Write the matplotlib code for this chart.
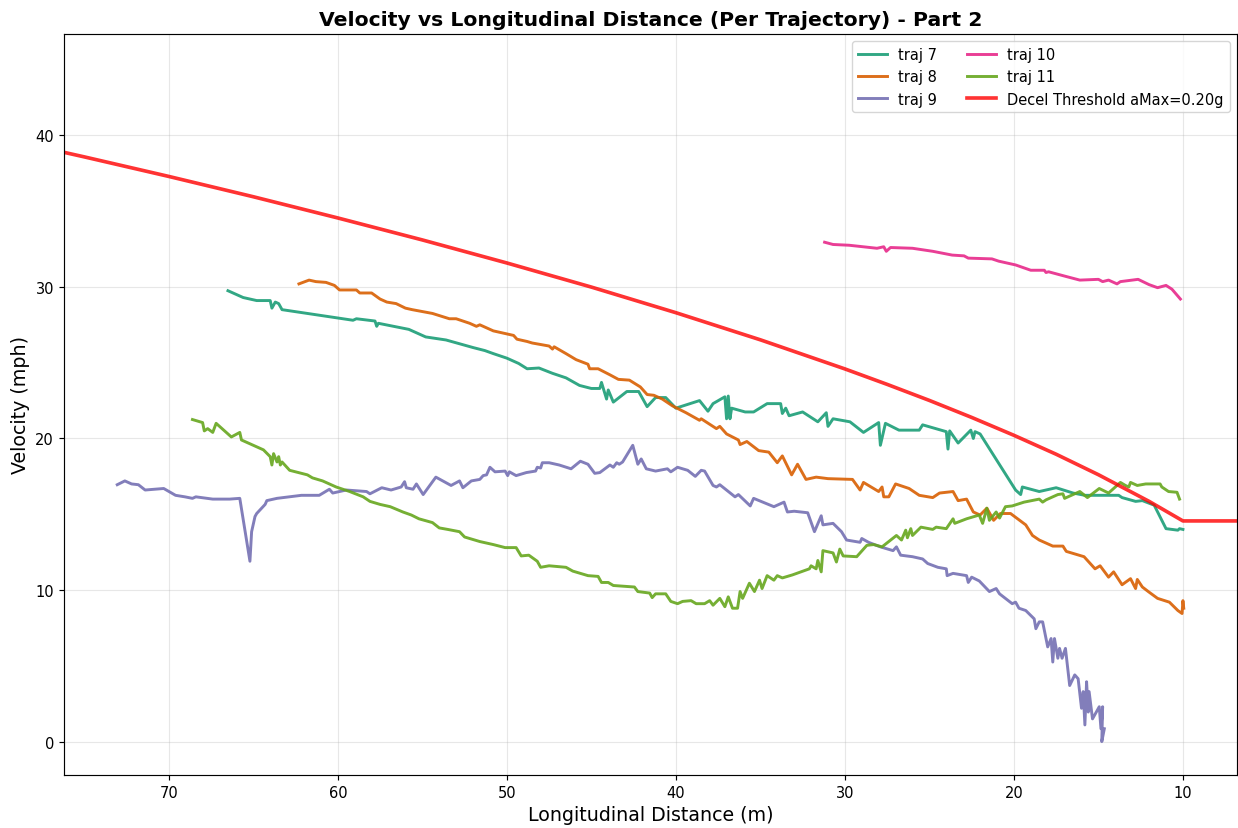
import matplotlib
matplotlib.use("Agg")
import matplotlib.pyplot as plt

# ---- data (distance in m, velocity in mph) ----
t7_x = [66.5, 65.6, 64.8, 64.0, 63.9, 63.7, 63.5, 63.3, 59.1, 58.9, 57.8, 57.7, 57.6, 55.8, 54.8, 53.6,
        52.0, 51.3, 50.8, 50.0, 49.3, 48.8, 48.1, 47.3, 46.5, 45.7, 45.0, 44.5, 44.4, 44.1, 44.0, 43.7,
        42.9, 42.2, 41.7, 41.2, 40.6, 40.0, 38.6, 38.1, 37.8, 37.1, 37.0, 36.9, 36.8, 36.7, 35.9, 35.4,
        34.6, 33.8, 33.7, 33.5, 33.3, 32.5, 31.6, 31.1, 31.0, 30.7, 29.7, 28.9, 28.0, 27.9, 27.6, 26.8,
        25.6, 25.4, 24.0, 23.9, 23.8, 23.3, 22.55, 22.4, 22.3, 22.0, 19.9, 19.6, 19.5, 18.5, 17.5, 16.5,
        15.8, 13.8, 13.6, 12.8, 12.4, 11.7, 11.0, 10.3, 10.2, 10.0]
t7_v = [29.75, 29.3, 29.1, 29.1, 28.6, 29.0, 28.9, 28.5, 27.8, 27.9, 27.75, 27.4, 27.6, 27.2, 26.7, 26.5,
        26.0, 25.8, 25.6, 25.3, 24.95, 24.6, 24.65, 24.3, 24.0, 23.5, 23.3, 23.3, 23.7, 22.6, 23.2, 22.4,
        23.1, 23.1, 22.1, 22.7, 22.7, 22.0, 22.5, 21.8, 22.3, 22.75, 21.3, 22.8, 21.3, 22.0, 21.75, 21.75,
        22.3, 22.3, 21.65, 22.0, 21.5, 21.75, 21.1, 21.7, 20.8, 21.3, 21.1, 20.4, 21.05, 19.55, 21.0, 20.55,
        20.55, 20.9, 20.45, 19.3, 20.5, 19.7, 20.55, 20.0, 20.45, 20.3, 16.6, 16.3, 16.8, 16.5, 16.75, 16.4,
        16.25, 16.25, 16.1, 15.85, 15.9, 15.6, 14.05, 13.95, 14.05, 14.0]

t8_x = [62.3, 61.7, 61.3, 60.7, 60.2, 59.9, 58.9, 58.7, 58.0, 57.5, 57.1, 56.55, 56.0, 55.6, 54.4, 53.4,
        53.0, 52.2, 51.8, 51.6, 50.8, 49.6, 49.4, 48.8, 48.5, 47.5, 47.3, 47.2, 46.5, 45.9, 45.2, 45.1,
        44.6, 43.9, 43.4, 42.75, 42.1, 41.7, 41.3, 40.8, 40.2, 39.4, 38.6, 38.5, 37.6, 37.4, 37.0, 36.3,
        36.2, 35.8, 35.1, 34.5, 34.0, 33.7, 33.15, 32.8, 32.3, 31.7, 31.0, 29.55, 29.1, 28.9, 28.0, 27.8,
        27.7, 27.4, 27.0, 26.2, 25.6, 24.8, 24.4, 23.6, 23.3, 22.8, 22.4, 22.0, 21.6, 21.2, 20.8, 20.2,
        19.3, 18.9, 18.5, 17.7, 17.1, 16.9, 15.85, 15.2, 14.9, 14.4, 14.1, 13.6, 13.1, 12.8, 12.7, 12.4,
        12.05, 11.5, 10.8, 10.3, 10.05, 10.0, 9.95]
t8_v = [30.2, 30.45, 30.35, 30.3, 30.1, 29.8, 29.8, 29.6, 29.6, 29.2, 29.0, 28.9, 28.6, 28.5, 28.25, 27.9,
        27.9, 27.6, 27.4, 27.5, 27.1, 26.8, 26.55, 26.4, 26.3, 26.1, 25.9, 26.05, 25.6, 25.2, 24.9, 24.6,
        24.6, 24.2, 23.9, 23.85, 23.4, 22.9, 22.85, 22.6, 22.15, 21.7, 21.2, 21.3, 20.65, 20.8, 20.3, 19.9,
        19.6, 19.8, 19.2, 19.1, 18.4, 18.85, 17.6, 18.3, 17.3, 17.45, 17.35, 17.3, 16.6, 17.1, 16.5, 16.8,
        16.15, 16.15, 17.0, 16.7, 16.25, 16.1, 16.4, 16.5, 15.9, 16.0, 15.15, 14.95, 15.4, 14.6, 15.05, 15.05,
        14.3, 13.6, 13.3, 12.9, 12.9, 12.55, 12.2, 11.4, 11.6, 10.85, 11.2, 10.35, 10.75, 10.1, 10.7, 10.2,
        9.9, 9.45, 9.2, 8.65, 8.45, 9.3, 8.8]

t9_x = [73.05, 72.6, 72.2, 71.8, 71.4, 70.3, 69.6, 69.05, 68.6, 68.4, 67.4, 66.4, 65.8, 65.2, 65.1, 64.9,
        64.8, 64.3, 64.2, 63.6, 62.85, 62.15, 61.1, 60.5, 60.3, 59.5, 58.3, 58.1, 57.4, 56.85, 56.25, 56.05,
        55.95, 55.55, 55.35, 54.95, 54.2, 53.3, 52.8, 52.6, 52.1, 51.6, 51.4, 51.2, 51.0, 50.7, 50.1, 49.95,
        49.85, 49.45, 48.85, 48.3, 48.2, 48.0, 47.9, 47.5, 46.9, 46.2, 45.65, 45.2, 44.8, 44.5, 43.9, 43.7,
        43.5, 43.35, 43.15, 42.55, 42.25, 42.05, 41.75, 41.2, 40.5, 40.3, 39.9, 39.3, 38.85, 38.5, 38.3, 37.8,
        37.6, 37.4, 36.5, 36.3, 35.6, 35.4, 34.2, 33.6, 33.4, 33.0, 32.2, 31.8, 31.4, 31.3, 30.7, 30.2,
        29.9, 29.1, 29.0, 28.6, 27.9, 27.15, 26.95, 26.7, 26.0, 25.4, 25.1, 24.5, 24.0, 23.95, 23.6, 22.8,
        22.7, 22.5, 22.05, 21.45, 21.05, 20.85, 20.1, 19.9, 19.7, 19.3, 18.8, 18.7, 18.5, 18.3, 18.0, 17.8,
        17.7, 17.6, 17.4, 17.3, 17.15, 16.95, 16.7, 16.4, 16.2, 16.0, 15.9, 15.8, 15.7, 15.6, 15.55, 15.35,
        14.95, 14.85, 14.75, 14.8, 14.65]
t9_v = [16.95, 17.2, 17.0, 16.95, 16.6, 16.7, 16.25, 16.15, 16.05, 16.15, 16.0, 16.0, 16.05, 11.9, 13.85, 14.85,
        15.05, 15.65, 15.9, 16.05, 16.15, 16.25, 16.25, 16.65, 16.4, 16.6, 16.5, 16.35, 16.75, 16.6, 16.8, 17.15,
        16.75, 16.65, 17.0, 16.3, 17.45, 16.9, 17.2, 16.75, 17.2, 17.3, 17.55, 17.6, 18.1, 17.8, 17.85, 17.55,
        17.8, 17.55, 17.75, 17.85, 18.1, 18.05, 18.4, 18.4, 18.25, 18.0, 18.5, 18.3, 17.7, 17.75, 18.25, 18.1,
        18.4, 18.3, 18.45, 19.55, 18.3, 18.65, 18.0, 17.85, 18.0, 17.8, 18.1, 17.9, 17.5, 17.9, 17.85, 16.9,
        16.8, 16.95, 16.15, 16.3, 15.55, 16.05, 15.5, 15.8, 15.15, 15.2, 15.1, 13.85, 14.9, 14.3, 14.4, 13.85,
        13.3, 13.15, 13.4, 13.15, 12.85, 12.6, 12.85, 12.3, 12.2, 12.05, 11.75, 11.5, 11.4, 10.95, 11.1, 10.95,
        10.5, 10.85, 10.6, 9.9, 10.1, 9.75, 9.1, 9.2, 8.8, 8.65, 8.1, 7.45, 7.9, 7.9, 6.25, 6.8,
        5.25, 6.8, 5.5, 6.15, 5.5, 6.15, 3.7, 4.4, 4.15, 2.2, 3.3, 1.1, 3.95, 1.95, 3.3, 1.5,
        2.3, 0.85, 2.3, 0.0, 0.85]

t10_x = [31.2, 30.7, 29.75, 28.1, 27.7, 27.55, 27.3, 26.0, 24.8, 23.65, 22.95, 22.7, 21.3, 20.9, 19.9, 19.0,
         18.2, 18.1, 17.95, 16.95, 16.1, 15.0, 14.75, 14.4, 13.9, 13.7, 12.65, 12.0, 11.5, 11.0, 10.65, 10.15]
t10_v = [32.95, 32.8, 32.75, 32.55, 32.65, 32.35, 32.6, 32.55, 32.35, 32.1, 32.05, 31.9, 31.85, 31.7, 31.45, 31.1,
         31.1, 30.95, 31.0, 30.7, 30.45, 30.5, 30.35, 30.45, 30.2, 30.35, 30.5, 30.15, 29.95, 30.1, 29.85, 29.2]

t11_x = [68.6, 68.0, 67.9, 67.7, 67.4, 67.2, 66.3, 65.8, 65.7, 64.4, 64.0, 63.9, 63.8, 63.6, 63.5, 63.4,
         63.3, 62.85, 61.8, 61.5, 60.9, 60.1, 59.3, 58.5, 58.1, 57.5, 56.9, 56.15, 55.65, 55.2, 54.4, 54.0,
         53.5, 52.8, 52.5, 51.6, 50.8, 50.1, 49.45, 49.15, 48.7, 48.2, 48.0, 47.5, 46.5, 46.1, 45.2, 44.6,
         44.4, 44.0, 43.7, 42.45, 42.25, 41.55, 41.4, 41.2, 40.6, 40.3, 39.9, 39.6, 39.1, 38.8, 38.3, 38.0,
         37.8, 37.4, 37.1, 36.9, 36.65, 36.35, 36.2, 36.05, 35.65, 35.35, 35.05, 34.9, 34.6, 34.2, 34.0, 33.7,
         33.1, 32.1, 32.0, 31.7, 31.6, 31.4, 31.3, 30.7, 30.5, 30.3, 30.1, 29.3, 28.7, 28.3, 27.8, 26.95,
         26.65, 26.4, 26.3, 26.1, 26.0, 25.5, 24.8, 24.6, 24.0, 23.6, 23.5, 22.8, 22.05, 21.85, 21.6, 21.45,
         21.05, 20.85, 20.5, 20.1, 19.4, 18.5, 18.3, 18.1, 17.4, 17.1, 17.0, 16.7, 16.1, 15.65, 14.95, 14.4,
         14.2, 13.7, 13.4, 13.2, 13.1, 12.7, 12.2, 11.35, 11.25, 10.85, 10.35, 10.2]
t11_v = [21.25, 21.05, 20.5, 20.65, 20.4, 21.0, 20.1, 20.4, 19.9, 19.25, 18.8, 18.25, 19.0, 18.45, 18.8, 18.25,
         18.45, 17.9, 17.6, 17.4, 17.2, 16.8, 16.5, 16.15, 15.85, 15.65, 15.5, 15.15, 14.95, 14.7, 14.45, 14.1,
         14.0, 13.85, 13.5, 13.2, 13.0, 12.8, 12.8, 12.25, 12.3, 11.9, 11.5, 11.6, 11.5, 11.25, 10.95, 10.9,
         10.5, 10.5, 10.3, 10.2, 9.9, 9.8, 9.5, 9.75, 9.75, 9.25, 9.1, 9.25, 9.3, 9.1, 9.1, 9.3,
         9.0, 9.45, 8.9, 9.55, 8.8, 8.8, 9.9, 9.45, 10.45, 9.9, 10.65, 10.1, 10.95, 10.65, 10.95, 10.8,
         11.0, 11.4, 11.6, 11.4, 11.95, 11.2, 12.6, 12.45, 11.85, 12.7, 12.25, 12.2, 12.95, 13.0, 12.85, 13.6,
         13.3, 13.95, 13.45, 14.05, 13.6, 14.15, 14.0, 14.15, 14.05, 14.7, 14.4, 14.7, 14.95, 14.4, 15.4, 14.6,
         15.15, 14.75, 15.5, 15.55, 15.8, 16.0, 15.8, 15.95, 16.3, 16.35, 16.05, 16.2, 16.5, 16.1, 16.7, 16.4,
         16.6, 17.1, 16.9, 16.8, 17.1, 16.9, 17.0, 17.0, 16.8, 16.5, 16.45, 16.0]

thr_x = [76.2, 75.0, 70.0, 65.0, 60.0, 55.0, 50.0, 45.0, 40.0, 35.0, 30.0, 27.5, 25.0, 22.5, 20.0, 17.5,
         15.0, 12.0, 10.0, 6.8]
thr_v = [38.88, 38.58, 37.29, 35.95, 34.55, 33.10, 31.58, 29.99, 28.30, 26.51, 24.59, 23.57, 22.51, 21.39,
         20.21, 18.96, 17.61, 15.85, 14.56, 14.56]

series = [("traj 7", t7_x, t7_v, "#1b9e77"),
          ("traj 8", t8_x, t8_v, "#d95f02"),
          ("traj 9", t9_x, t9_v, "#7570b3"),
          ("traj 10", t10_x, t10_v, "#e7298a"),
          ("traj 11", t11_x, t11_v, "#66a61e")]

S = 1.05
fig = plt.figure(figsize=(12.38, 8.29), dpi=100)
ax = fig.add_axes([0.0517, 0.064, 0.9475, 0.894])

for name, xs, vs, col in series:
    ax.plot(xs, vs, color=col, lw=2 * S, alpha=0.9, label=name)
ax.plot(thr_x, thr_v, color="red", lw=2.5 * S, alpha=0.8, label="Decel Threshold aMax=0.20g")

ax.set_xlim(76.2, 6.8)
ax.set_ylim(-2.2, 46.7)
ax.set_xticks([70, 60, 50, 40, 30, 20, 10])
ax.set_yticks([0, 10, 20, 30, 40])
ax.tick_params(labelsize=10 * S, width=0.8 * S, length=3.5 * S)
for sp in ax.spines.values():
    sp.set_linewidth(0.8 * S)
ax.grid(True, alpha=0.3, lw=0.8 * S)
ax.set_xlabel("Longitudinal Distance (m)", fontsize=13 * S)
ax.set_ylabel("Velocity (mph)", fontsize=13 * S)
ax.set_title("Velocity vs Longitudinal Distance (Per Trajectory) - Part 2", fontsize=14 * S,
             fontweight="bold", pad=6 * S)
ax.legend(loc="upper right", ncol=2, fontsize=10 * S)

fig.savefig("out.png", dpi=100)
